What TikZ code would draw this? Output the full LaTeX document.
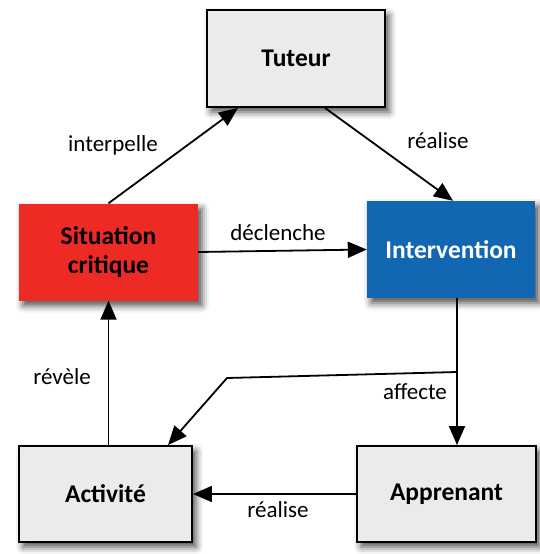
\documentclass[tikz,border=0pt]{standalone}
\usepackage{fontspec}
\setmainfont{Carlito}
\usetikzlibrary{arrows.meta,shadows.blur}
\definecolor{boxgray}{HTML}{EBEBEB}
\definecolor{sitred}{HTML}{EE2A24}
\definecolor{intblue}{HTML}{1267B3}
\begin{document}
\begin{tikzpicture}[x=1pt,y=-1pt,
  box/.style={rectangle, minimum height=97pt, inner sep=0pt, align=center,
    font=\fontsize{25.5}{29}\selectfont\bfseries,
    blur shadow={shadow xshift=4pt, shadow yshift=-5pt, shadow blur radius=7pt, shadow opacity=70}},
  graybox/.style={box, draw=black, line width=1.9pt, fill=boxgray},
  conn/.style={line width=1.8pt, -{Triangle[length=19pt,width=16pt]}},
  lbl/.style={font=\fontsize{23}{28}\selectfont, inner sep=0pt}]
\useasboundingbox (0,0) rectangle (539,554);
\node[graybox, minimum width=178pt] (tut) at (296,58.5) {Tuteur};
\node[box, fill=sitred, minimum width=179pt] (sit) at (108.5,252) {Situation\\critique};
\node[box, fill=intblue, text=white, minimum width=168pt] (int) at (451,249.5) {Intervention};
\node[graybox, minimum width=173pt, minimum height=96pt] (act) at (105.5,494) {Activité};
\node[graybox, minimum width=179pt, minimum height=96pt] (app) at (446.5,494) {Apprenant};
\coordinate (j) at (457,372);
\coordinate (k) at (227,378);
\draw[conn] (sit.north) -- ([xshift=-58pt]tut.south);
\draw[conn] ([xshift=29pt]tut.south) -- ([xshift=2pt]int.north);
\draw[conn] (sit.east) -- (int.west);
\draw[conn] (int.south -| j) -- (app.north -| j);
\draw[conn] (j) -- (k) -- ([xshift=62.5pt]act.north);
\draw[conn] (app.west) -- (act.east);
\draw[conn] (sit.south |- act.north) -- (sit.south);
\node[lbl] (l1) at (113,145) {interpelle};
\node[lbl] (l2) at (438,141) {réalise};
\node[lbl] (l3) at (278,233) {déclenche};
\node[lbl] (l4) at (62,377) {révèle};
\node[lbl] (l5) at (415,392) {affecte};
\node[lbl] (l6) at (278,510) {réalise};
\end{tikzpicture}
\end{document}
